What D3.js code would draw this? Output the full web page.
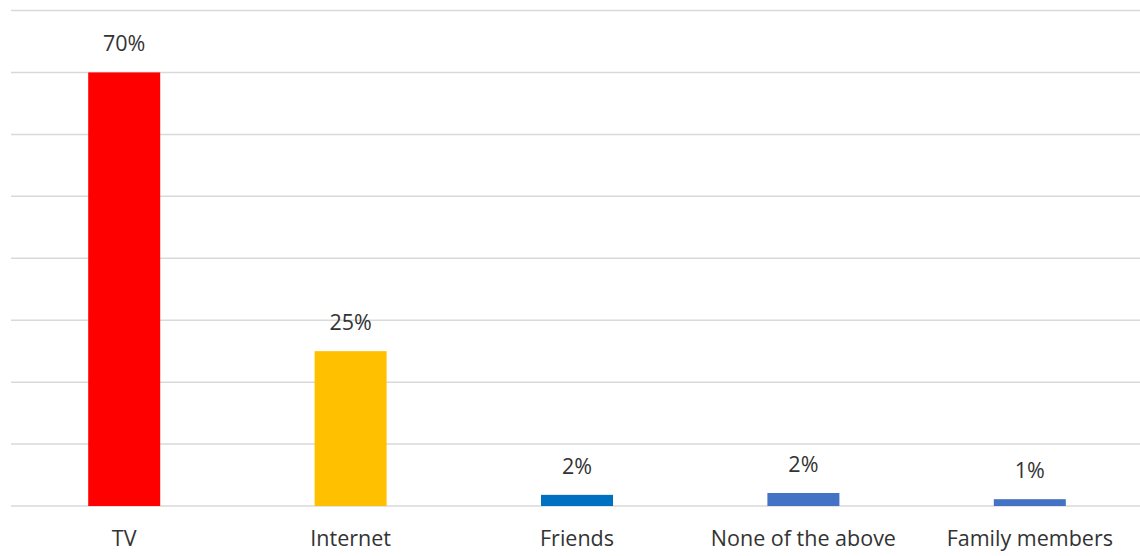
<!DOCTYPE html>
<html><head><meta charset="utf-8">
<script src="https://cdn.jsdelivr.net/npm/d3@7"></script>
<style>html,body{margin:0;padding:0;background:#fff;}svg{display:block;}</style>
</head><body>
<svg id="chart" width="1140" height="556"></svg>
<script>
const categories = ["TV", "Internet", "Friends", "None of the above", "Family members"];
const values = [0.70, 0.25, 0.018, 0.021, 0.011];
const barColors = ["#FF0000", "#FFC000", "#0070C0", "#4472C4", "#4472C4"];
const yTicks = [0, 0.1, 0.2, 0.3, 0.4, 0.5, 0.6, 0.7, 0.8];

const svg = d3.select("#chart");
const m = {left: 11, right: -3, top: 10.5, bottom: 50};
const W = 1140, H = 556;
const x = d3.scaleBand().domain(categories).range([m.left, W - m.right]).paddingInner(0.682).paddingOuter(0.341);
const y = d3.scaleLinear().domain([0, 0.8]).range([H - m.bottom, m.top]);

svg.append("g").selectAll("line").data(yTicks).join("line")
  .attr("x1", m.left).attr("x2", W)
  .attr("y1", d => y(d)).attr("y2", d => y(d))
  .attr("stroke", "#d9d9d9").attr("stroke-width", 1.5);

svg.append("g").selectAll("rect").data(categories).join("rect")
  .attr("x", d => x(d)).attr("width", x.bandwidth())
  .attr("y", (d, i) => y(values[i])).attr("height", (d, i) => y(0) - y(values[i]))
  .attr("fill", (d, i) => barColors[i]);

const fmt = d3.format(".0%");
svg.append("g").selectAll("text").data(categories).join("text")
  .attr("x", d => x(d) + x.bandwidth() / 2)
  .attr("y", (d, i) => y(values[i]) - 21)
  .attr("text-anchor", "middle")
  .attr("font-family", "'Open Sans', sans-serif").attr("font-size", 21.5)
  .attr("fill", "#333")
  .text((d, i) => fmt(values[i]));

const xAxis = d3.axisBottom(x).tickSize(0).tickPadding(0);
const gx = svg.append("g").attr("transform", `translate(0,${y(0)})`).call(xAxis);
gx.select(".domain").remove();
gx.selectAll("text").attr("y", 40).attr("dy", 0)
  .attr("font-family", "'Open Sans', sans-serif").attr("font-size", 21.5).attr("fill", "#333");
</script>
</body></html>
